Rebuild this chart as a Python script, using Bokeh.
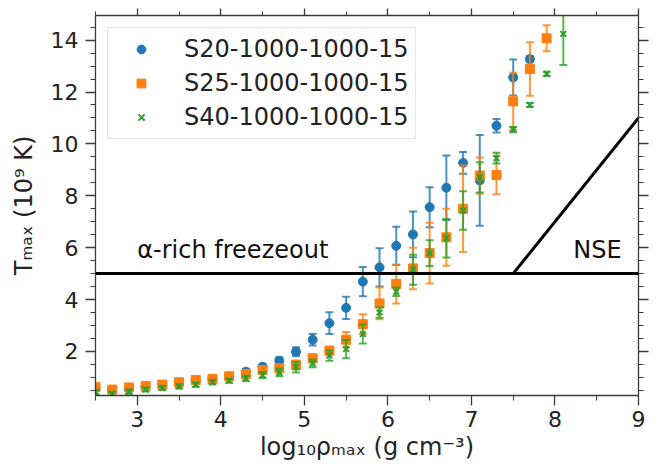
import math
from bokeh.plotting import figure
from bokeh.models import (ColumnDataSource, Span, Legend, LegendItem, LinearAxis,
                          SingleIntervalTicker, Range1d, CustomLabelingPolicy)
from bokeh.core.properties import value
from bokeh.embed import file_html
from bokeh.resources import INLINE

# ---------------- data ----------------
x_s20 = [2.5, 2.7, 2.9, 3.1, 3.3, 3.5, 3.7, 3.9, 4.1, 4.3, 4.5, 4.7, 4.9, 5.1,
         5.3, 5.5, 5.7, 5.9, 6.1, 6.3, 6.5, 6.7, 6.9, 7.1, 7.3, 7.5, 7.7]
t_s20 = [0.58, 0.50, 0.58, 0.65, 0.70, 0.80, 0.88, 0.93, 1.03, 1.22, 1.41, 1.64, 1.99, 2.45,
         3.09, 3.68, 4.69, 5.24, 6.07, 6.51, 7.56, 8.31, 9.27, 8.59, 10.70, 12.56, 13.27]
e_s20 = [0.07, 0.06, 0.06, 0.06, 0.06, 0.07, 0.07, 0.07, 0.08, 0.09, 0.10, 0.13, 0.17, 0.22,
         0.42, 0.43, 0.56, 0.74, 0.74, 0.88, 0.77, 1.24, 0.42, 1.75, 0.26, 0.69, 0.12]

x_s25 = [2.5, 2.7, 2.9, 3.1, 3.3, 3.5, 3.7, 3.9, 4.1, 4.3, 4.5, 4.7, 4.9, 5.1,
         5.3, 5.5, 5.7, 5.9, 6.1, 6.3, 6.5, 6.7, 6.9, 7.1, 7.3, 7.5, 7.7, 7.9]
t_s25 = [0.62, 0.53, 0.61, 0.67, 0.72, 0.81, 0.90, 0.94, 1.04, 1.13, 1.28, 1.35, 1.48, 1.73,
         2.03, 2.45, 3.05, 3.85, 4.60, 5.20, 5.79, 6.40, 7.50, 8.78, 8.80, 11.64, 12.89, 14.07]
e_s25 = [0.10, 0.10, 0.10, 0.10, 0.10, 0.10, 0.10, 0.10, 0.11, 0.12, 0.13, 0.14, 0.17, 0.16,
         0.15, 0.30, 0.38, 0.61, 0.75, 0.80, 1.17, 1.10, 1.67, 0.70, 0.74, 1.10, 1.03, 0.50]

x_s40 = [2.5, 2.7, 2.9, 3.1, 3.3, 3.5, 3.7, 3.9, 4.1, 4.3, 4.5, 4.7, 4.9, 5.1,
         5.3, 5.5, 5.7, 5.9, 6.1, 6.3, 6.5, 6.7, 6.9, 7.1, 7.3, 7.5, 7.7, 7.9, 8.1]
t_s40 = [0.43, 0.36, 0.45, 0.53, 0.59, 0.65, 0.72, 0.81, 0.87, 0.96, 1.09, 1.19, 1.39, 1.54,
         1.84, 2.09, 2.67, 3.50, 4.30, 5.15, 5.79, 6.36, 7.43, 8.71, 9.45, 10.55, 11.50, 12.70, 14.24]
e_s40 = [0.08, 0.08, 0.08, 0.08, 0.08, 0.08, 0.08, 0.08, 0.08, 0.10, 0.12, 0.15, 0.20, 0.15,
         0.20, 0.35, 0.37, 0.20, 0.16, 0.58, 0.50, 0.74, 0.74, 0.58, 0.21, 0.10, 0.08, 0.08, 1.20]

series_names = ["S20-1000-1000-15", "S25-1000-1000-15", "S40-1000-1000-15"]
series_colors = ["#1f77b4", "#ff7f0e", "#2ca02c"]
series_markers = ["circle", "square", "x"]

freezeout_T = 5.0
nse_x = [7.5, 9.0]
nse_y = [5.0, 11.0]
region_labels = ["\u03b1-rich freezeout", "NSE"]
region_label_x = [3.0, 8.22]
region_label_y = [5.9, 5.9]

x_title = "log\u2081\u2080\u03c1\u2098\u2090\u2093 (g cm\u207b\u00b3)"
y_title = "T\u2098\u2090\u2093 (10\u2079 K)"

x_lim = (2.5, 9.0)
y_lim = (0.3, 14.95)

# ---------------- figure ----------------
FONT = "DejaVu Sans"
AX = "#3a3a3a"

p = figure(width=666, height=464, x_range=Range1d(*x_lim), y_range=Range1d(*y_lim),
           output_backend="svg", toolbar_location=None,
           min_border_left=95, min_border_right=28, min_border_top=15, min_border_bottom=69)
p.xgrid.visible = False
p.ygrid.visible = False
p.outline_line_color = None
p.background_fill_color = "white"
p.border_fill_color = "white"

hide_all = CustomLabelingPolicy(code="for (const i of indices) indices.unset(i)")


def style_axis(ax, tick_out=10, minor_out=5, labels=True):
    ax.axis_line_color = AX
    ax.axis_line_width = 1.3
    ax.major_tick_line_color = AX
    ax.major_tick_line_width = 1.3
    ax.minor_tick_line_color = AX
    ax.minor_tick_line_width = 1.0
    ax.major_tick_in = 0
    ax.major_tick_out = tick_out
    ax.minor_tick_in = 0
    ax.minor_tick_out = minor_out
    ax.major_label_text_font = FONT
    ax.major_label_text_color = "#222222"
    if labels:
        ax.major_label_text_font_size = "22px"
    else:
        ax.major_label_text_font_size = "1px"
        ax.major_label_text_alpha = 0
        ax.major_label_standoff = 0
        ax.major_label_policy = hide_all


p.xaxis.ticker = SingleIntervalTicker(interval=1, num_minor_ticks=2)
p.yaxis.ticker = SingleIntervalTicker(interval=2, num_minor_ticks=4)
style_axis(p.xaxis[0])
style_axis(p.yaxis[0])
p.xaxis.major_label_standoff = 5
p.yaxis.major_label_standoff = 7
p.xaxis.axis_label = x_title
p.yaxis.axis_label = y_title
for ax in (p.xaxis[0], p.yaxis[0]):
    ax.axis_label_text_font = FONT
    ax.axis_label_text_font_size = "24px"
    ax.axis_label_text_font_style = "normal"
    ax.axis_label_text_color = "#222222"
p.xaxis.axis_label_standoff = 3
p.yaxis.axis_label_standoff = 10

top_ax = LinearAxis(ticker=SingleIntervalTicker(interval=1, num_minor_ticks=2))
style_axis(top_ax, tick_out=7, minor_out=4, labels=False)
p.add_layout(top_ax, "above")
right_ax = LinearAxis(ticker=SingleIntervalTicker(interval=2, num_minor_ticks=4))
style_axis(right_ax, labels=False)
p.add_layout(right_ax, "right")

# boundary lines
p.add_layout(Span(location=freezeout_T, dimension="width", line_color="black", line_width=3))
p.line(nse_x, nse_y, line_color="black", line_width=3)

p.text(x=region_label_x, y=region_label_y, text=region_labels,
       text_font=value(FONT), text_font_size="24px", text_color="#111111",
       text_baseline="alphabetic", text_align="left")

# ---------------- series ----------------
items = []
for xs, ts, es, name, col, mk in zip([x_s20, x_s25, x_s40], [t_s20, t_s25, t_s40],
                                     [e_s20, e_s25, e_s40], series_names,
                                     series_colors, series_markers):
    src = ColumnDataSource(dict(x=xs, y=ts,
                                lo=[t - e for t, e in zip(ts, es)],
                                hi=[t + e for t, e in zip(ts, es)]))
    p.segment(x0="x", y0="lo", x1="x", y1="hi", source=src,
              line_color=col, line_width=2, line_alpha=0.8)
    p.scatter(x="x", y="lo", marker="dash", size=8, source=src,
              line_color=col, line_width=2, line_alpha=0.8)
    p.scatter(x="x", y="hi", marker="dash", size=8, source=src,
              line_color=col, line_width=2, line_alpha=0.8)
    if mk == "x":
        r = p.scatter(x="x", y="y", marker="x", size=8, source=src,
                      line_color=col, line_width=2)
    else:
        r = p.scatter(x="x", y="y", marker=mk, size=9, source=src,
                      fill_color=col, line_color=col)
    items.append(LegendItem(label=name, renderers=[r]))

legend = Legend(items=items, location="top_left", margin=12, padding=7, spacing=6,
                glyph_width=52, glyph_height=22, label_height=28, label_standoff=17,
                label_text_font=FONT, label_text_font_size="24px",
                label_text_color="#222222",
                border_line_color="#cccccc", border_line_width=1.2,
                background_fill_alpha=0.85)
p.add_layout(legend)

open("out.html", "w").write(file_html(p, INLINE))
